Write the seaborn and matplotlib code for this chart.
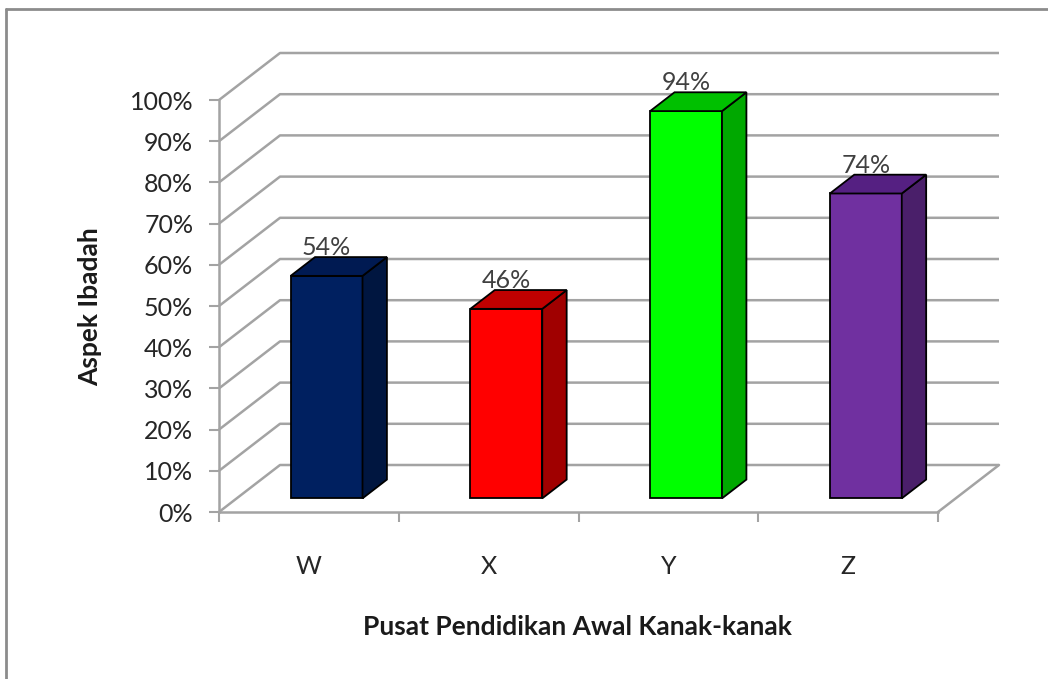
import numpy as np
import pandas as pd
import matplotlib
matplotlib.use("Agg")
import matplotlib.pyplot as plt
import seaborn as sns
from matplotlib.lines import Line2D
from matplotlib.patches import Polygon

# ---------------- data ----------------
categories = ["W", "X", "Y", "Z"]
values = [54, 46, 94, 74]
front_colors = ["#002060", "#FF0000", "#00FF00", "#7030A0"]
side_colors = ["#001640", "#A00000", "#00A800", "#4A1F6A"]
top_colors = ["#001A52", "#C00000", "#00C000", "#552082"]
y_ticks = list(range(0, 101, 10))
y_tick_labels = [f"{v}%" for v in y_ticks]
x_title = "Pusat Pendidikan Awal Kanak-kanak"
y_title = "Aspek Ibadah"

sns.set_style("white")
plt.rcParams["font.family"] = ["Lato", "DejaVu Sans"]

W, H, DPI = 1048, 679, 100
fig = plt.figure(figsize=(W / DPI, H / DPI), dpi=DPI)
fig.patch.set_facecolor("white")

# front plane of the 3-D box in pixels
L, R, B, T = 219, 938, 512, 100
ax = fig.add_axes([L / W, 1 - B / H, (R - L) / W, (B - T) / H])
ax.set_facecolor("none")

df = pd.DataFrame({"cat": categories, "val": values})
sns.barplot(data=df, x="cat", y="val", hue="cat", palette=front_colors,
            saturation=1, width=0.4, legend=False, edgecolor="black",
            linewidth=1.3, ax=ax, zorder=3)
ax.set_xlim(-0.5, 3.5)
ax.set_ylim(0, 100)

# depth projection (pixels -> data units)
DX, DY = 61, 47
xpp = 4 / (R - L)
ypp = 100 / (B - T)


def off(f):
    return f * DX * xpp, f * DY * ypp


grid_c = "#A3A3A3"
ox, oy = off(1)
for v in y_ticks:
    ax.plot([-0.5, -0.5 + ox, 3.5 + ox], [v, v + oy, v + oy], color=grid_c,
            lw=1.8, clip_on=False, zorder=1, solid_capstyle="butt")
ax.plot([3.5, 3.5 + ox], [0, oy], color=grid_c, lw=1.8, clip_on=False, zorder=1)

# 3-D bars: shift front faces and add side / top faces
fx, fy = off(0.29)
bx, by = off(0.69)
for i, p in enumerate(ax.patches):
    x0, w, h = p.get_x(), p.get_width(), p.get_height()
    p.set_x(x0 + fx)
    p.set_y(p.get_y() + fy)
    side = Polygon([(x0 + w + fx, fy), (x0 + w + fx, h + fy),
                    (x0 + w + bx, h + by), (x0 + w + bx, by)], closed=True,
                   facecolor=side_colors[i], edgecolor="black", lw=1.3,
                   zorder=3, clip_on=False)
    top = Polygon([(x0 + fx, h + fy), (x0 + w + fx, h + fy),
                   (x0 + w + bx, h + by), (x0 + bx, h + by)], closed=True,
                  facecolor=top_colors[i], edgecolor="black", lw=1.3,
                  zorder=3, clip_on=False)
    ax.add_patch(side)
    ax.add_patch(top)
    ax.text(x0 + w / 2 + fx, h + by + 2 * ypp, f"{values[i]}%", ha="center",
            va="baseline", fontsize=18, color="#404040", zorder=5, clip_on=False)

# axes styling
for s in ["top", "right"]:
    ax.spines[s].set_visible(False)
for s in ["left", "bottom"]:
    ax.spines[s].set_color(grid_c)
    ax.spines[s].set_linewidth(1.8)
    ax.spines[s].set_zorder(2)

ax.set_yticks(y_ticks, y_tick_labels)
ax.tick_params(axis="y", left=True, length=7.5, width=1.5, color=grid_c,
               pad=11, labelsize=18, labelcolor="#262626")
ax.set_xticks([-0.5, 0.5, 1.5, 2.5, 3.5], [""] * 5)
ax.set_xticks(range(len(categories)), categories, minor=True)
ax.tick_params(axis="x", which="major", bottom=True, length=7.5, width=1.5,
               color=grid_c)
ax.tick_params(axis="x", which="minor", bottom=True, length=0, pad=31,
               labelsize=18, labelcolor="#262626")
ax.set_xlabel("")
ax.set_ylabel("")
ax.grid(False)

fig.text(577 / W, 1 - 627 / H, x_title, ha="center", va="center",
         fontsize=19, fontweight="bold", color="#1a1a1a")
fig.text(90 / W, 1 - 307 / H, y_title, ha="center", va="center",
         rotation=90, fontsize=19, fontweight="bold", color="#1a1a1a")

# outer chart border
fig.add_artist(Line2D([6 / W, 6 / W], [0, 1 - 9 / H], transform=fig.transFigure,
                      color="#8C8C8C", lw=2))
fig.add_artist(Line2D([6 / W, 1], [1 - 9 / H, 1 - 9 / H], transform=fig.transFigure,
                      color="#8C8C8C", lw=2))

fig.savefig("out.png", dpi=DPI)
